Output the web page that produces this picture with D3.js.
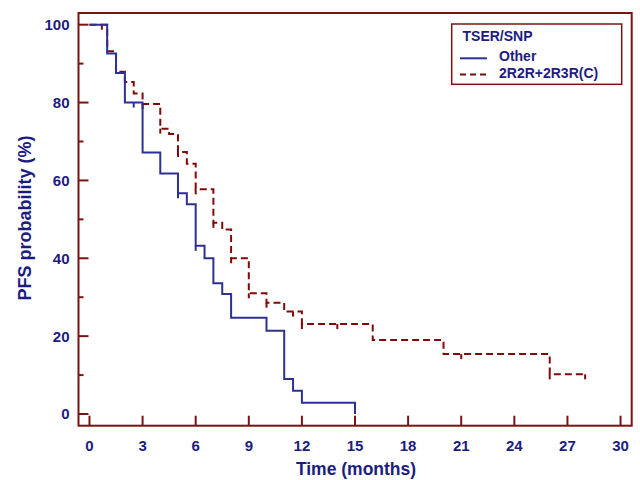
<!DOCTYPE html>
<html>
<head>
    <meta charset="UTF-8">
    <title>PFS by TSER/SNP</title>
    <style>
        body { margin: 0; background: #fff; }
        svg text { font-family: "Liberation Sans", Arial, sans-serif; font-weight: bold; fill: #1c1c80; }
        .frame { fill: none; stroke: #7a1414; stroke-width: 2px; }
        .tick-line { stroke: #7a1414; stroke-width: 2px; }
        .other { fill: none; stroke: #2e3192; stroke-width: 2px; }
        .variant { fill: none; stroke: #7f0a0a; stroke-width: 2px; stroke-dasharray: 7,4; }
    </style>
</head>
<body>
<script src="https://cdnjs.cloudflare.com/ajax/libs/d3/7.8.5/d3.min.js"></script>
<script>
    // series: Other (solid blue)
    var otherTimes = [0, 1, 1.5, 2, 3, 4, 5, 5.5, 6, 6.5, 7, 7.5, 8, 10, 11, 11.5, 12, 15];
    var otherSurv = [100, 92.6, 87.6, 80, 67.2, 61.8, 56.7, 53.9, 43.2, 40, 33.6, 30.8, 24.7, 21.4, 9, 6, 2.9, 0];
    var otherCensored = [2.5, 5, 6];

    // series: 2R2R+2R3R(C) (dashed dark red)
    var variantTimes = [0, 1, 1.5, 2, 2.5, 3, 4, 4.5, 5, 5.5, 6, 7, 7.5, 8, 9, 10, 11, 12, 16, 20, 26, 28];
    var variantSurv = [100, 93.2, 87.9, 85.3, 82.3, 79.6, 73.3, 71.9, 67.3, 64.3, 57.7, 49.1, 47.4, 40, 31, 28.6, 26.3, 23.1, 19, 15.4, 10.2, 10.2];
    var variantCensored = [0.7, 3, 4, 5, 6, 7, 8, 9, 10, 11.5, 12, 14, 21, 26, 28];

    var xTicks = [0, 3, 6, 9, 12, 15, 18, 21, 24, 27, 30];
    var yTicks = [0, 20, 40, 60, 80, 100];
    var yMinor = [10, 30, 50, 70, 90];

    var legendTitle = "TSER/SNP";
    var legendNames = ["Other", "2R2R+2R3R(C)"];

    var width = 640, height = 480;

    var x = d3.scaleLinear().domain([-0.62, 30.63]).range([78.5, 631.7]);
    var y = d3.scaleLinear().domain([-3, 103]).range([425.7, 13]);

    var svg = d3.select("body").append("svg")
        .attr("width", width)
        .attr("height", height);

    // frame
    svg.append("rect")
        .attr("class", "frame")
        .attr("x", x.range()[0]).attr("y", y.range()[1])
        .attr("width", x.range()[1] - x.range()[0])
        .attr("height", y.range()[0] - y.range()[1]);

    // x axis, ticks pointing inwards
    var xAxis = svg.append("g")
        .attr("transform", `translate(0,${y.range()[0]})`);
    xAxis.selectAll("line").data(xTicks).enter().append("line")
        .attr("class", "tick-line")
        .attr("x1", (d) => x(d)).attr("x2", (d) => x(d))
        .attr("y1", 0).attr("y2", -10);
    xAxis.selectAll("text").data(xTicks).enter().append("text")
        .attr("x", (d) => x(d)).attr("y", 25)
        .attr("text-anchor", "middle")
        .style("font-size", "15px")
        .text((d) => d);

    // y axis
    var yAxis = svg.append("g")
        .attr("transform", `translate(${x.range()[0]},0)`);
    yAxis.selectAll("line.major").data(yTicks).enter().append("line")
        .attr("class", "tick-line major")
        .attr("x1", 0).attr("x2", 10)
        .attr("y1", (d) => y(d)).attr("y2", (d) => y(d));
    yAxis.selectAll("line.minor").data(yMinor).enter().append("line")
        .attr("class", "tick-line minor")
        .attr("x1", 0).attr("x2", 5)
        .attr("y1", (d) => y(d)).attr("y2", (d) => y(d));
    yAxis.selectAll("text").data(yTicks).enter().append("text")
        .attr("x", -9).attr("y", (d) => y(d))
        .attr("dy", "0.36em")
        .attr("text-anchor", "end")
        .style("font-size", "15px")
        .text((d) => d);

    svg.append("text")
        .attr("transform", "translate(31,218) rotate(-90)")
        .attr("text-anchor", "middle")
        .style("font-size", "18px")
        .text("PFS probability (%)");

    svg.append("text")
        .attr("x", 356).attr("y", 475)
        .attr("text-anchor", "middle")
        .style("font-size", "17.5px")
        .text("Time (months)");

    // survival curves
    var line = d3.line()
        .x((d) => x(d[0]))
        .y((d) => y(d[1]))
        .curve(d3.curveStepAfter);

    function survAt(times, surv, t) {
        var v = surv[0];
        for (var i = 0; i < times.length; i++) {
            if (times[i] <= t) v = surv[i];
        }
        return v;
    }

    function drawCurve(times, surv, censored, cls, color) {
        svg.append("path")
            .datum(d3.zip(times, surv))
            .attr("class", cls)
            .attr("d", line);
        svg.append("g").selectAll("line").data(censored).enter().append("line")
            .attr("x1", (d) => x(d)).attr("x2", (d) => x(d))
            .attr("y1", (d) => y(survAt(times, surv, d)))
            .attr("y2", (d) => y(survAt(times, surv, d)) + 5)
            .attr("stroke", color)
            .attr("stroke-width", 2);
    }

    drawCurve(variantTimes, variantSurv, variantCensored, "variant", "#7f0a0a");
    drawCurve(otherTimes, otherSurv, otherCensored, "other", "#2e3192");

    // legend
    var legend = svg.append("g");
    legend.append("rect")
        .attr("x", 451.7).attr("y", 24)
        .attr("width", 170).attr("height", 60.3)
        .attr("fill", "#fff")
        .attr("stroke", "#7a1414")
        .attr("stroke-width", 1.5);
    legend.append("text")
        .attr("x", 462.5).attr("y", 40.7)
        .style("font-size", "14px")
        .text(legendTitle);
    var classes = ["other", "variant"];
    legendNames.forEach(function(name, i) {
        var ly = 58.3 + i * 16.3;
        legend.append("line")
            .attr("class", classes[i])
            .attr("x1", 460).attr("x2", 487)
            .attr("y1", ly).attr("y2", ly)
            .style("stroke-dasharray", i === 1 ? "6,4" : null);
        legend.append("text")
            .attr("x", 499).attr("y", ly + 2.6 + i * 0.5)
            .style("font-size", "14px")
            .text(name);
    });
</script>
</body>
</html>
